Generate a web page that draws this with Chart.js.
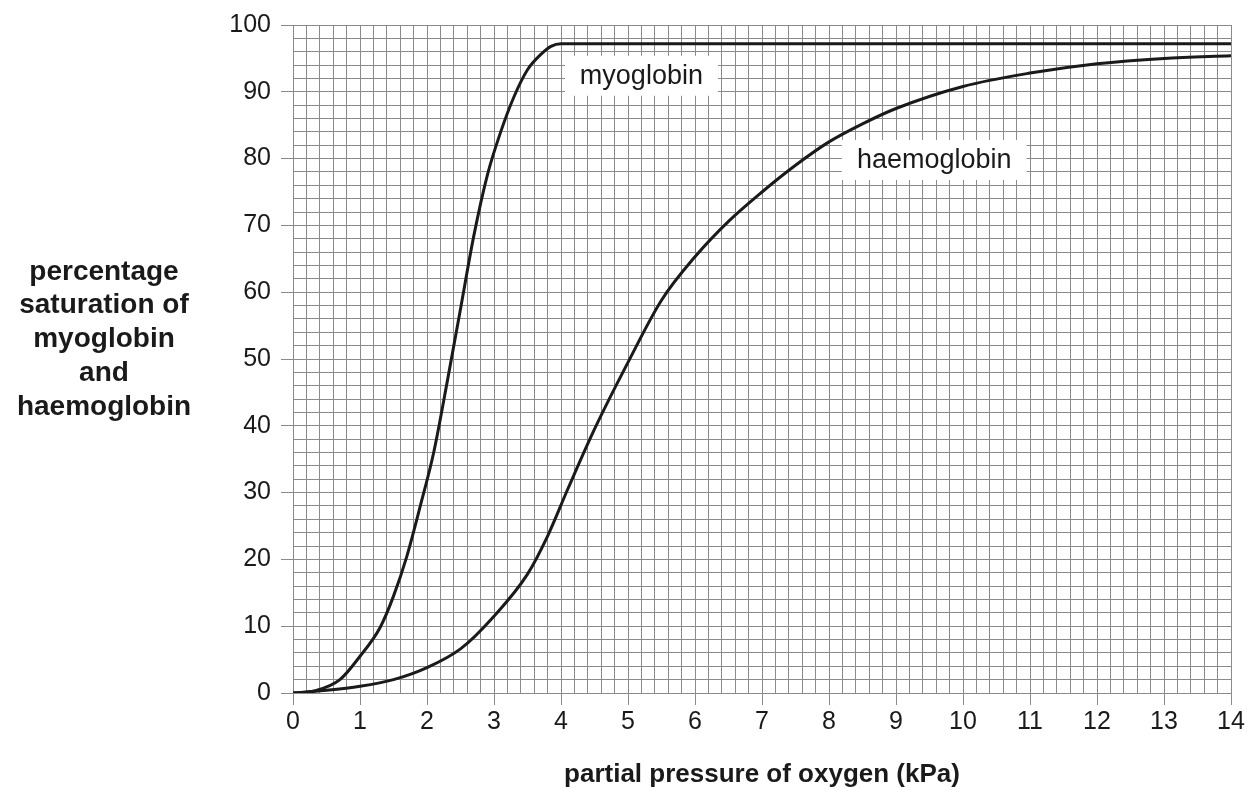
<!DOCTYPE html>
<html>
<head>
<meta charset="utf-8">
<script src="https://cdn.jsdelivr.net/npm/chart.js@4.4.1/dist/chart.umd.min.js"></script>
<style>
  body { margin: 0; background: #fff; }
  #wrap { width: 1247px; height: 789px; }
</style>
</head>
<body>
<div id="wrap"><canvas id="myChart"></canvas></div>
<script>
// partial pressure of oxygen (kPa) and % saturation
const myoPressure   = [0, 0.35, 0.7, 1.0, 1.3, 1.5, 1.7, 1.9, 2.1, 2.3, 2.5, 2.7, 2.9, 3.1, 3.3, 3.5, 3.7, 3.85, 4.0, 14];
const myoSaturation = [0, 0.4, 2.0, 5.5, 9.8, 14.5, 20.5, 28, 36, 46.5, 57.5, 68.5, 77.5, 84, 89.3, 93.3, 95.6, 96.8, 97.2, 97.2];

const haemPressure   = [0, 0.5, 1, 1.5, 2, 2.5, 3, 3.5, 3.8, 4.1, 4.5, 5, 5.5, 6, 6.5, 7, 7.5, 8, 8.5, 9, 10, 11, 12, 13, 14];
const haemSaturation = [0, 0.4, 1.0, 2.0, 3.8, 6.6, 11.5, 17.8, 23.5, 30.5, 39.5, 49.5, 58.8, 65.3, 70.6, 75, 79, 82.5, 85.2, 87.5, 90.8, 92.8, 94.2, 95.0, 95.4];

const yTitleLines = ['percentage', 'saturation of', 'myoglobin', 'and', 'haemoglobin'];
const xTitle = 'partial pressure of oxygen (kPa)';
const curveLabels = [
  { text: 'myoglobin', x: 5.2, y: 92.4 },
  { text: 'haemoglobin', x: 9.57, y: 79.8 }
];

const FONT = '"Liberation Sans", Arial, sans-serif';
const GRID = '#8a8a8a';
const INK = '#1a1a1a';

const toPoints = (xs, ys) => xs.map((x, i) => ({ x: x, y: ys[i] }));
const isWhole = (v, step) => Math.abs(v / step - Math.round(v / step)) < 1e-6;

const textPlugin = {
  id: 'textPlugin',
  beforeDatasetsDraw(chart) {
    const ctx = chart.ctx;
    const xs = chart.scales.x, ys = chart.scales.y;
    ctx.save();
    ctx.font = '27px ' + FONT;
    ctx.textAlign = 'center';
    ctx.textBaseline = 'middle';
    curveLabels.forEach(l => {
      const cx = xs.getPixelForValue(l.x);
      const cy = ys.getPixelForValue(l.y);
      const w = ctx.measureText(l.text).width + 30;
      ctx.fillStyle = '#fff';
      ctx.fillRect(cx - w / 2, cy - 20, w, 40);
      ctx.fillStyle = INK;
      ctx.fillText(l.text, cx, cy + 1);
    });
    ctx.restore();
  },
  afterDraw(chart) {
    const ctx = chart.ctx;
    const area = chart.chartArea;
    ctx.save();
    ctx.fillStyle = INK;
    ctx.textAlign = 'center';
    ctx.textBaseline = 'middle';
    ctx.font = 'bold 28px ' + FONT;
    yTitleLines.forEach((line, i) => {
      ctx.fillText(line, 104, 272 + i * 33.7);
    });
    ctx.font = 'bold 26px ' + FONT;
    ctx.fillText(xTitle, (area.left + area.right) / 2, 775);
    ctx.restore();
  }
};

const config = {
  type: 'line',
  data: {
    datasets: [
      {
        label: 'myoglobin',
        data: toPoints(myoPressure, myoSaturation),
        borderColor: INK,
        borderWidth: 3,
        pointRadius: 0,
        cubicInterpolationMode: 'monotone'
      },
      {
        label: 'haemoglobin',
        data: toPoints(haemPressure, haemSaturation),
        borderColor: INK,
        borderWidth: 3,
        pointRadius: 0,
        cubicInterpolationMode: 'monotone'
      }
    ]
  },
  options: {
    responsive: true,
    maintainAspectRatio: false,
    animation: false,
    layout: { padding: { left: 0, right: 16, top: 25, bottom: 0 } },
    plugins: {
      legend: { display: false },
      tooltip: { enabled: false }
    },
    scales: {
      x: {
        type: 'linear',
        min: 0,
        max: 14,
        afterFit(scale) { scale.height = 96; },
        border: { color: GRID, width: 1 },
        grid: {
          color: GRID,
          lineWidth: 1,
          tickLength: 12,
          tickColor: c => isWhole(c.tick.value, 1) ? GRID : 'rgba(0,0,0,0)'
        },
        ticks: {
          stepSize: 0.2,
          autoSkip: false,
          maxRotation: 0,
          padding: 2,
          color: INK,
          font: { family: FONT, size: 25 },
          callback: v => isWhole(v, 1) ? String(Math.round(v)) : ''
        }
      },
      y: {
        type: 'linear',
        min: 0,
        max: 100,
        afterFit(scale) { scale.width = 293; },
        border: { color: GRID, width: 1 },
        grid: {
          color: GRID,
          lineWidth: 1,
          tickLength: 12,
          tickColor: c => isWhole(c.tick.value, 10) ? GRID : 'rgba(0,0,0,0)'
        },
        ticks: {
          stepSize: 2,
          autoSkip: false,
          padding: 10,
          color: INK,
          font: { family: FONT, size: 25 },
          callback: v => isWhole(v, 10) ? String(Math.round(v)) : ''
        }
      }
    }
  },
  plugins: [textPlugin]
};

const ctx = document.getElementById('myChart').getContext('2d');
const chart = new Chart(ctx, config);
</script>
</body>
</html>
